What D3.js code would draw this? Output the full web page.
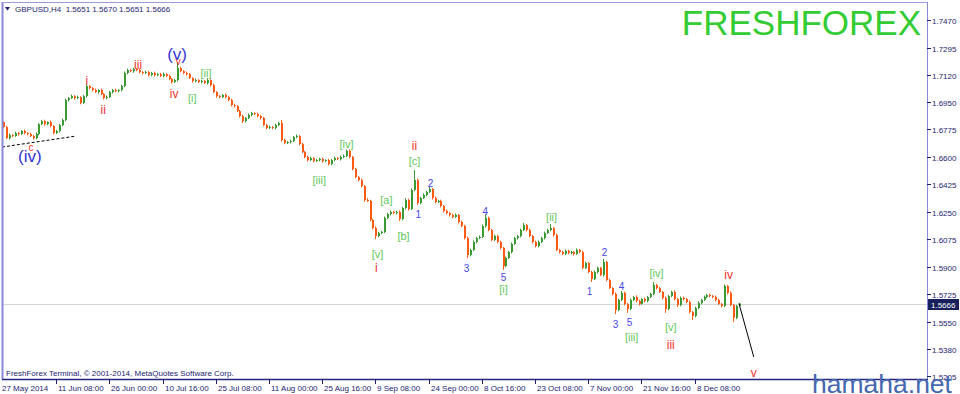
<!DOCTYPE html>
<html><head><meta charset="utf-8">
<script src="https://cdn.jsdelivr.net/npm/d3@7"></script>
<style>html,body{margin:0;padding:0;background:#fff;overflow:hidden}svg{display:block}</style>
</head><body><svg id="c" width="960" height="394"></svg>
<script>
// ---------- DATA (GBPUSD H4) ----------
const symbolTitle = "GBPUSD,H4";
const firstOpen = 1.6821;
const closes = [
1.6789,1.6719,1.6738,1.6732,1.6751,1.6745,1.6764,1.6751,1.6745,1.6732,
1.6719,1.6745,1.6808,1.6827,1.6808,1.6821,1.6796,1.6751,1.6764,1.6802,
1.6834,1.6961,1.6974,1.6986,1.6974,1.6980,1.6942,1.6986,1.7050,1.7037,
1.7025,1.7012,1.7025,1.6999,1.6974,1.6980,1.7012,1.7025,1.7018,1.7025,
1.7050,1.7133,1.7152,1.7145,1.7158,1.7152,1.7139,1.7133,1.7139,1.7120,
1.7133,1.7120,1.7126,1.7114,1.7126,1.7114,1.7095,1.7076,1.7088,1.7165,
1.7145,1.7133,1.7126,1.7101,1.7082,1.7088,1.7076,1.7082,1.7069,1.7088,
1.7056,1.7012,1.6986,1.6980,1.6993,1.6980,1.6961,1.6929,1.6923,1.6891,
1.6859,1.6827,1.6847,1.6866,1.6878,1.6872,1.6859,1.6847,1.6802,1.6783,
1.6789,1.6783,1.6802,1.6815,1.6707,1.6688,1.6694,1.6700,1.6726,1.6732,
1.6681,1.6630,1.6599,1.6579,1.6592,1.6573,1.6579,1.6586,1.6573,1.6579,
1.6554,1.6579,1.6592,1.6586,1.6599,1.6605,1.6637,1.6599,1.6522,1.6471,
1.6452,1.6414,1.6325,1.6319,1.6198,1.6147,1.6096,1.6115,1.6122,1.6211,
1.6236,1.6249,1.6242,1.6249,1.6204,1.6274,1.6325,1.6268,1.6389,1.6452,
1.6306,1.6338,1.6357,1.6376,1.6395,1.6338,1.6312,1.6319,1.6287,1.6255,
1.6242,1.6230,1.6217,1.6230,1.6185,1.6160,1.6083,1.5975,1.6007,1.6058,
1.6083,1.6090,1.6160,1.6211,1.6134,1.6071,1.6096,1.6058,1.6020,1.5905,
1.5956,1.5994,1.6045,1.6083,1.6096,1.6134,1.6166,1.6134,1.6096,1.6058,
1.6032,1.6058,1.6083,1.6115,1.6134,1.6147,1.6102,1.6007,1.5994,1.5982,
1.6001,1.5988,1.5994,1.5982,1.6007,1.5994,1.5893,1.5924,1.5867,1.5823,
1.5867,1.5893,1.5848,1.5931,1.5816,1.5765,1.5727,1.5625,1.5689,1.5734,
1.5664,1.5632,1.5689,1.5708,1.5683,1.5664,1.5695,1.5683,1.5708,1.5727,
1.5784,1.5765,1.5740,1.5702,1.5632,1.5714,1.5740,1.5695,1.5657,1.5702,
1.5695,1.5676,1.5613,1.5587,1.5638,1.5670,1.5689,1.5708,1.5721,1.5714,
1.5708,1.5689,1.5664,1.5651,1.5778,1.5734,1.5657,1.5575,1.5651,1.5666
];
// wick lengths beyond the body, in pips
const upperWicks = [
6,8,10,5,9,7,6,8,5,9, 7,10,6,8,9,5,10,6,8,7, 9,8,6,10,7,9,5,8,12,6,
7,9,5,8,6,10,7,6,9,5, 8,10,9,6,8,7,10,6,9,8, 7,9,6,8,10,5,8,6,9,38,
8,6,9,7,5,10,6,8,7,12, 6,9,5,8,7,10,6,8,9,5, 7,9,6,10,8,5,9,7,6,8,
9,6,8,7,19,8,6,9,7,10, 6,9,7,8,10,6,8,7,9,5, 8,7,9,6,8,10,7,9,6,8,
7,9,6,12,8,7,10,8,6,9, 7,10,6,8,9,7,12,8,10,64, 9,7,10,8,13,6,9,7,8,6,
9,7,8,10,6,8,7,9,8,10, 7,9,10,25,8,6,9,7,8,6, 9,7,10,8,6,9,13,7,8,6,
8,10,7,9,8,25,6,9,7,8, 9,7,8,6,10,7,8,9,6,7, 9,8,6,19,7,8,6,9,7,12,
8,6,9,7,10,8,6,9,7,8, 19,7,8,6,9,8,7,10,6,9, 8,7,9,6,8,10,7,9,6,8,
7,9,8,6,10,7,9,8,6,4
];
const lowerWicks = [
8,6,9,7,5,10,6,8,9,6, 9,7,8,6,10,7,9,8,6,9, 7,8,9,6,10,7,8,6,9,7,
8,6,10,7,9,8,6,9,7,8, 9,7,8,6,10,7,9,8,6,9, 7,10,8,6,9,7,8,10,6,9,
8,7,9,6,10,8,7,9,6,8, 9,7,10,8,6,9,7,8,10,6, 9,12,8,7,9,6,8,10,7,9,
6,8,9,7,10,8,7,9,6,8, 9,7,8,10,6,9,7,8,10,7, 9,7,8,6,10,8,7,9,8,7,
9,8,10,7,9,8,19,9,8,7, 8,9,7,10,12,8,9,10,7,8, 12,8,7,9,6,10,8,7,9,8,
7,9,8,6,10,8,9,19,8,7, 9,8,7,10,8,9,7,8,10,25, 8,7,9,6,10,8,7,9,8,10,
9,8,7,9,6,8,10,7,9,8, 7,9,8,10,6,8,9,7,8,19, 8,9,7,10,8,6,9,25,7,8,
9,25,8,7,9,10,6,8,9,7, 8,9,7,10,25,8,7,9,12,8, 9,8,10,25,8,7,9,6,8,9,
8,9,7,10,8,9,7,26,8,0
];
const timeLabels = ["27 May 2014","11 Jun 08:00","26 Jun 00:00","10 Jul 16:00","25 Jul 08:00","11 Aug 00:00","25 Aug 16:00","9 Sep 08:00","24 Sep 00:00","8 Oct 16:00","23 Oct 08:00","7 Nov 00:00","21 Nov 16:00","8 Dec 08:00"];
const timeLabelBars = [0,18,36,54,72,90,108,126,144,162,180,198,216,234];
const priceTicks = ["1.7470","1.7295","1.7120","1.6950","1.6775","1.6600","1.6425","1.6250","1.6075","1.5900","1.5725","1.5550","1.5380","1.5205"];
// Elliott wave labels: text, bar position, price position, style
const waveText  = ["(iv)","c","i","ii","iii","(v)","v","iv","[i]","[ii]","[iii]","[iv]","ii","[c]","2","[a]","1","[b]","[v]","i","3","4","5","[i]","[ii]","1","2","3","4","5","[iii]","[iv]","[v]","iii","iv","v"];
const waveBar   = [9.1,9.5,28.4,33.9,45.7,58.9,59.3,57.9,64.0,68.7,107.0,116.2,139.2,139.2,144.6,129.7,140.5,135.5,126.7,126.3,156.8,163.2,169.3,169.3,185.6,198.4,203.5,207.2,209.3,212.0,212.7,221.1,225.9,225.9,245.5,254.0];
const wavePrice = [1.6605,1.6662,1.7082,1.6897,1.7184,1.7254,1.7209,1.6999,1.6974,1.7133,1.6452,1.6681,1.6668,1.6573,1.6433,1.6325,1.6230,1.6096,1.5982,1.5893,1.5886,1.6249,1.5829,1.5759,1.6217,1.5740,1.5988,1.5530,1.5772,1.5543,1.5454,1.5861,1.5517,1.5403,1.5848,1.5225];
const waveStyle = ["big","redS","red","red","red","big","redS","red","grn","grn","grn","grn","red","grn","blu","grn","blu","grn","grn","red","blu","blu","blu","grn","grn","blu","blu","blu","blu","blu","grn","grn","grn","red","red","red"];
const trendBars = [0, 24.7], trendPrices = [1.6662, 1.6732];
const projBars = [249, 254], projPrices = [1.5666, 1.5326];
const lastBar = {open:1.5651, high:1.5670, low:1.5651, close:1.5666};

// ---------- DRAW ----------
const W = 960, H = 394;
const L = 2, T = 2, R = 927, B = 379;
const svg = d3.select("#c");
const font = "'Liberation Sans', Arial, sans-serif";
const navy = "#1c1c70";

const x = d3.scaleLinear().domain([0, 249]).range([3, 739]);
const y = d3.scaleLinear().domain([1.5186, 1.7585]).range([B, T]);

const candles = closes.map((c, i) => {
  const o = i === 0 ? firstOpen : closes[i - 1];
  return {i, o, c, h: Math.max(o, c) + upperWicks[i] / 10000, l: Math.min(o, c) - lowerWicks[i] / 10000};
});

svg.append("rect").attr("width", W).attr("height", H).attr("fill", "#fff");
svg.append("defs").append("clipPath").attr("id", "pc")
  .append("rect").attr("x", L).attr("y", T).attr("width", R - L).attr("height", B - T);

const plot = svg.append("g").attr("clip-path", "url(#pc)");

// bid line
plot.append("line").attr("x1", L).attr("x2", R)
  .attr("y1", Math.round(y(closes[closes.length - 1])) + 0.5).attr("y2", Math.round(y(closes[closes.length - 1])) + 0.5)
  .attr("stroke", "#d6d6d6").attr("stroke-width", 1);

const col = d => d.c > d.o ? "#3a9a32" : (d.c < d.o ? "#ff5a14" : "#000");
const cg = plot.append("g");
cg.selectAll("line.w").data(candles).join("line").attr("class", "w")
  .attr("x1", d => Math.round(x(d.i)) + 0.5).attr("x2", d => Math.round(x(d.i)) + 0.5)
  .attr("y1", d => y(d.h)).attr("y2", d => y(d.l))
  .attr("stroke", col).attr("stroke-width", 1);
cg.selectAll("rect.b").data(candles).join("rect").attr("class", "b")
  .attr("x", d => Math.round(x(d.i)))
  .attr("width", 2)
  .attr("y", d => y(Math.max(d.o, d.c)))
  .attr("height", d => Math.max(1, Math.abs(y(d.o) - y(d.c))))
  .attr("fill", col);

// trend line (dashed)
plot.append("line")
  .attr("x1", x(trendBars[0]) - 1).attr("y1", y(trendPrices[0]))
  .attr("x2", x(trendBars[1])).attr("y2", y(trendPrices[1]))
  .attr("stroke", "#000").attr("stroke-width", 1).attr("stroke-dasharray", "3,2");

// projection line
plot.append("line")
  .attr("x1", x(projBars[0])).attr("y1", y(projPrices[0]))
  .attr("x2", x(projBars[1])).attr("y2", y(projPrices[1]))
  .attr("stroke", "#000").attr("stroke-width", 1);

// wave labels
const styles = {
  big:  {size: 17, fill: "#3434d4"},
  red:  {size: 12, fill: "#f0302a"},
  redS: {size: 10, fill: "#f0302a"},
  grn:  {size: 11, fill: "#62c85a"},
  blu:  {size: 10, fill: "#4646e6"}
};
svg.append("g").selectAll("text").data(waveText).join("text")
  .attr("x", (t, k) => x(waveBar[k]))
  .attr("y", (t, k) => y(wavePrice[k]))
  .attr("text-anchor", "middle").attr("dominant-baseline", "central")
  .attr("font-family", font)
  .attr("font-size", (t, k) => styles[waveStyle[k]].size)
  .attr("fill", (t, k) => styles[waveStyle[k]].fill)
  .text(t => t);

// frame
svg.append("line").attr("x1", L + 0.5).attr("x2", L + 0.5).attr("y1", T).attr("y2", B).attr("stroke", "#8a8ad6").attr("stroke-width", 2);
svg.append("line").attr("x1", L).attr("x2", R).attr("y1", T + 0.5).attr("y2", T + 0.5).attr("stroke", "#9a9ad8").attr("stroke-width", 1);
svg.append("line").attr("x1", R + 0.5).attr("x2", R + 0.5).attr("y1", T).attr("y2", B).attr("stroke", "#8a8ad6").attr("stroke-width", 1);
svg.append("line").attr("x1", L).attr("x2", R + 1).attr("y1", B + 0.5).attr("y2", B + 0.5).attr("stroke", "#26267e").attr("stroke-width", 1.5);

// price axis
const ya = svg.append("g");
priceTicks.forEach(t => {
  const yy = Math.round(y(+t)) + 0.5;
  ya.append("line").attr("x1", R).attr("x2", R + 4).attr("y1", yy).attr("y2", yy).attr("stroke", navy);
  ya.append("text").attr("x", R + 5).attr("y", yy + 3).attr("font-family", font).attr("font-size", 8)
    .attr("fill", navy).text(t);
});
// current price tag
const yb = Math.round(y(closes[closes.length - 1]));
svg.append("rect").attr("x", R + 1).attr("y", yb - 5).attr("width", 31).attr("height", 11).attr("fill", "#17205a");
svg.append("text").attr("x", R + 4).attr("y", yb + 3.5).attr("font-family", font).attr("font-size", 8)
  .attr("fill", "#fff").text(closes[closes.length - 1].toFixed(4));

// time axis
const xa = svg.append("g");
timeLabels.forEach((t, k) => {
  const xx = Math.round(x(timeLabelBars[k])) + 0.5;
  if (k > 0) xa.append("line").attr("x1", xx).attr("x2", xx).attr("y1", B).attr("y2", B + 5).attr("stroke", navy);
  xa.append("text").attr("x", k === 0 ? L : xx + 1.5).attr("y", 391).attr("font-family", font).attr("font-size", 8)
    .attr("fill", navy).text(t);
});

// header
svg.append("path").attr("d", "M5,7 L10,7 L7.5,10.5 Z").attr("fill", navy);
svg.append("text").attr("x", 15).attr("y", 12).attr("font-family", font).attr("font-size", 8).attr("fill", navy)
  .attr("xml:space", "preserve").style("white-space", "pre")
  .text(symbolTitle + "  " + [lastBar.open, lastBar.high, lastBar.low, lastBar.close].map(v => v.toFixed(4)).join(" "));

svg.append("text").attr("x", 6).attr("y", 376).attr("font-family", font).attr("font-size", 8).attr("fill", navy)
  .text("FreshForex Terminal, © 2001-2014, MetaQuotes Software Corp.");

// watermarks
svg.append("text").attr("x", 921).attr("y", 35).attr("text-anchor", "end").attr("font-family", font)
  .attr("font-size", 35).attr("fill", "#33cc33").text("FRESHFOREX");
svg.append("text").attr("x", 812).attr("y", 393).attr("font-family", font)
  .attr("font-size", 26.5).attr("fill", "#4568b0").text("hamaha.net");
</script></body></html>
